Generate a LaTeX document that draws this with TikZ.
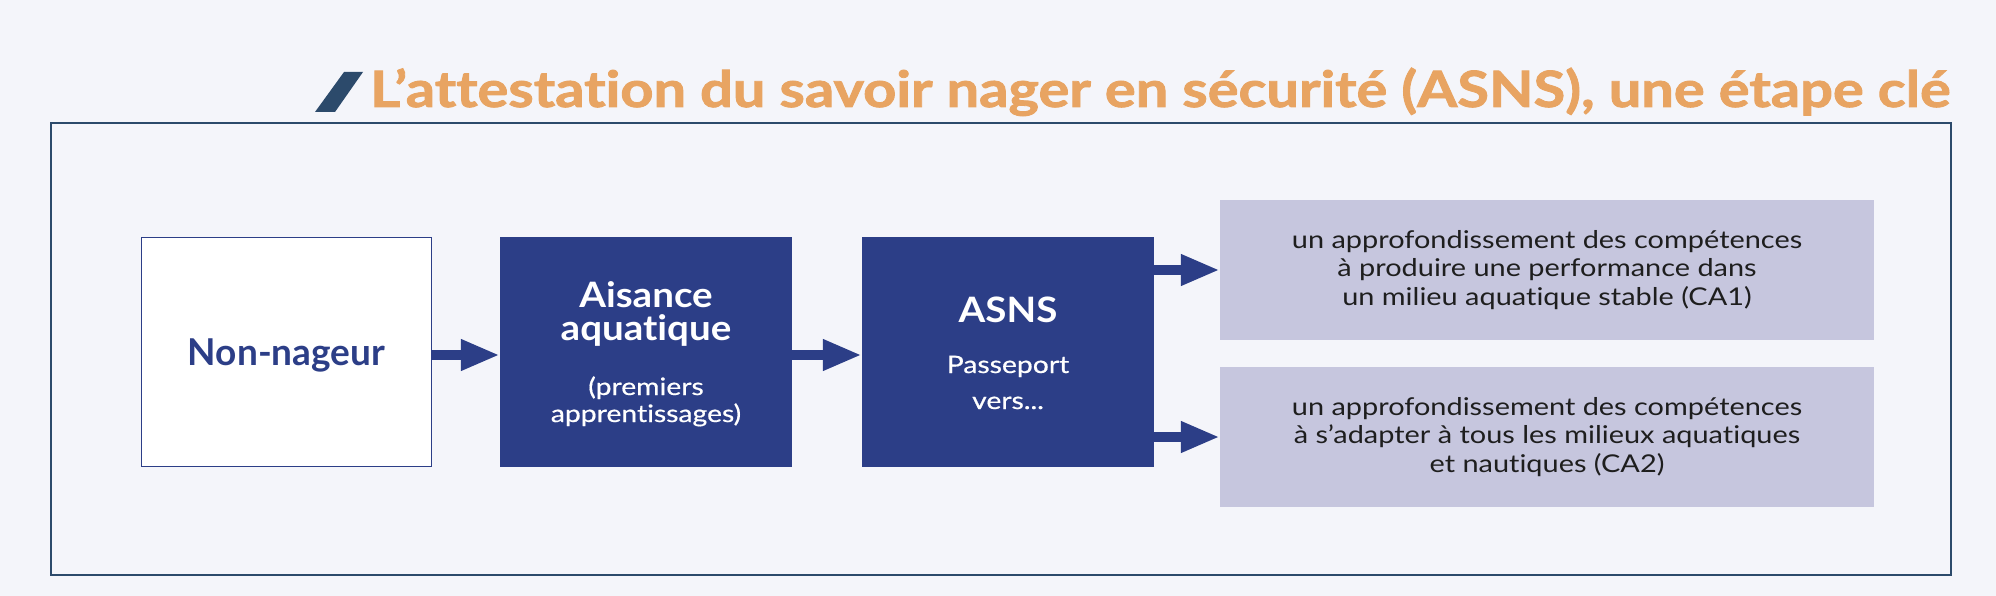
\documentclass[tikz,border=0pt]{standalone}
\usepackage{fontspec}
\usepackage{graphicx}
\setmainfont{Lato}[Ligatures=NoCommon]
\newfontfamily\titlefont[Ligatures=NoCommon, FakeBold=1.6]{Lato}
\newfontfamily\boxbold[Ligatures=NoCommon, FakeStretch=1.1]{Lato}
\newfontfamily\boxmed[Ligatures=NoCommon, FakeStretch=1.18, FakeBold=0.6]{Lato}
\newfontfamily\cafont[Ligatures=NoCommon, FakeStretch=1.18]{Lato}
\usetikzlibrary{arrows.meta}
\definecolor{bg}{RGB}{244,245,250}
\definecolor{navy}{RGB}{44,62,135}
\definecolor{lav}{RGB}{198,198,222}
\definecolor{orangeT}{RGB}{232,164,98}
\definecolor{slate}{RGB}{44,74,107}
\definecolor{txt}{RGB}{30,30,30}
\tikzset{
  navybox/.style={fill=navy, draw=none, minimum width=292pt, minimum height=230pt, inner sep=0pt},
  whitebox/.style={fill=white, draw=navy, line width=1.5pt, minimum width=290pt, minimum height=229pt, inner sep=0pt},
  cabox/.style={fill=lav, draw=none, minimum width=654pt, minimum height=140pt, inner sep=0pt,
    align=center, text=txt, font=\cafont\fontsize{24.5}{28.5}\selectfont},
  bigw/.style={text=white, font=\boxbold\bfseries\fontsize{35}{40}\selectfont, inner sep=0pt, anchor=base},
  smallw/.style={text=white, font=\boxmed\fontsize{24}{28}\selectfont, inner sep=0pt, anchor=base},
  flow/.style={draw=navy, line width=10pt, -{Triangle[length=39pt, width=29pt]}}
}
\begin{document}
\begin{tikzpicture}[x=1pt,y=-1pt]
\fill[bg] (0,0) rectangle (1996,596);
\useasboundingbox (0,0) rectangle (1996,596);
% title
\fill[slate] (315,112) -- (335,112) -- (363,72) -- (344,72) -- cycle;
\node[anchor=base west, inner sep=0pt, text=orangeT] (title) at (370,107) {\resizebox{1580pt}{\height}{\titlefont\bfseries\fontsize{50}{56}\selectfont L’attestation du savoir nager en sécurité (ASNS), une étape clé}};
% frame
\draw[slate, line width=2.8pt] (51,123) rectangle (1951,575);
% boxes
\node[whitebox] (nn) at (286.5,352) {};
\node[text=navy, font=\bfseries\fontsize{37}{42}\selectfont, inner sep=0pt, anchor=base] (nnt) at (286.5,365) {Non-nageur};
\node[navybox] (ai) at (646,352) {};
\node[bigw] (ai1) at (646,307) {Aisance};
\node[bigw] (ai2) at (646,340) {aquatique};
\node[smallw] (ai3) at (646,395) {(premiers};
\node[smallw] (ai4) at (646,422) {apprentissages)};
\node[navybox] (as) at (1008,352) {};
\node[bigw] (as1) at (1008,322) {ASNS};
\node[smallw] (as2) at (1008,373) {Passeport};
\node[smallw] (as3) at (1008,409) {vers...};
\node[cabox] (ca1) at (1547,270) {un approfondissement des compétences\\à produire une performance dans\\un milieu aquatique stable (CA1)};
\node[cabox] (ca2) at (1547,437) {un approfondissement des compétences\\à s’adapter à tous les milieux aquatiques\\et nautiques (CA2)};
% arrows
\draw[flow] ([yshift=-3pt]nn.east) -- ([yshift=-3pt]ai.west);
\draw[flow] ([yshift=-3pt]ai.east) -- ([yshift=-3pt]as.west);
\draw[flow] (as.east |- ca1.west) -- (ca1.west);
\draw[flow] (as.east |- ca2.west) -- (ca2.west);
\end{tikzpicture}
\end{document}
